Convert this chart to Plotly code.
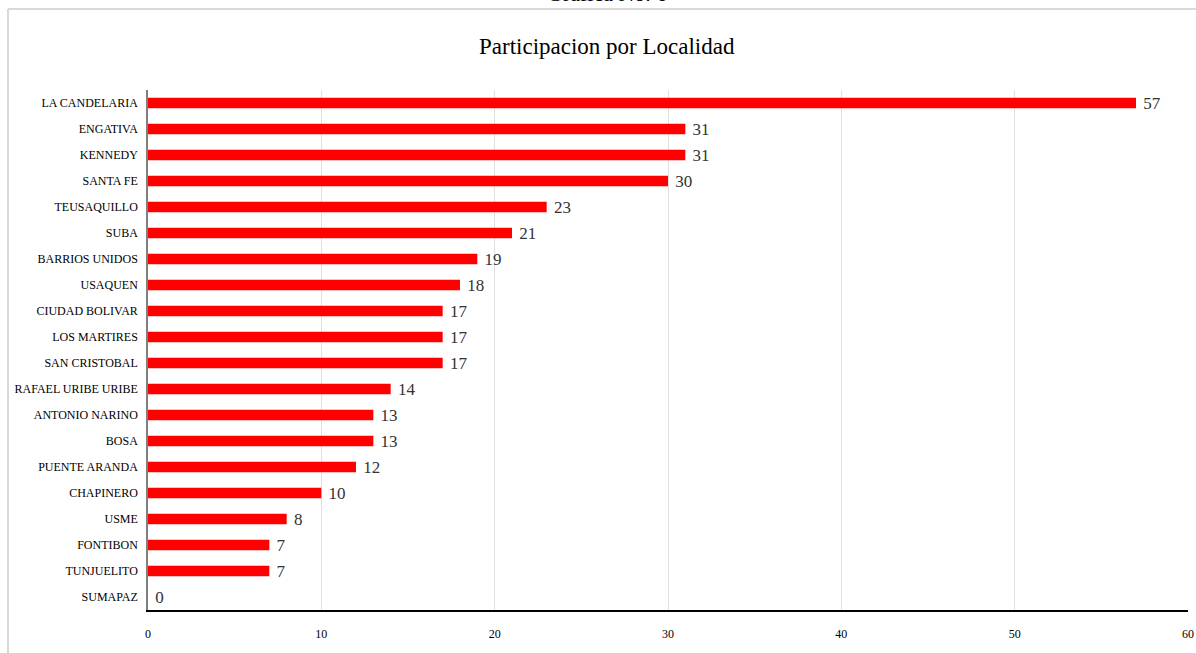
import plotly.graph_objects as go

categories = ["LA CANDELARIA", "ENGATIVA", "KENNEDY", "SANTA FE", "TEUSAQUILLO", "SUBA",
              "BARRIOS UNIDOS", "USAQUEN", "CIUDAD BOLIVAR", "LOS MARTIRES", "SAN CRISTOBAL",
              "RAFAEL URIBE URIBE", "ANTONIO NARINO", "BOSA", "PUENTE ARANDA", "CHAPINERO",
              "USME", "FONTIBON", "TUNJUELITO", "SUMAPAZ"]
values = [57, 31, 31, 30, 23, 21, 19, 18, 17, 17, 17, 14, 13, 13, 12, 10, 8, 7, 7, 0]
x_ticks = [0, 10, 20, 30, 40, 50, 60]

W, H = 1196, 653
L, R, T, B = 148, 1188, 90, 610

def px(x):
    return (x - L) / (R - L)

def py(y):
    return (B - y) / (B - T)

FONT = "Liberation Serif"

fig = go.Figure(go.Bar(
    x=values, y=categories, orientation="h",
    marker=dict(color="#ff0000", line=dict(width=0)),
    text=[" " + str(v) for v in values], textposition="outside",
    constraintext="none",
    textfont=dict(family=FONT, size=17, color="#333333"),
    cliponaxis=False,
))

fig.update_layout(
    width=W, height=H,
    margin=dict(l=L, r=W - R, t=T, b=H - B, autoexpand=False),
    paper_bgcolor="white", plot_bgcolor="white",
    bargap=0.6,
    showlegend=False,
    font=dict(family=FONT, color="#000000"),
)
fig.update_yaxes(
    categoryorder="array", categoryarray=categories[::-1],
    showline=True, linecolor="#7f7f7f", linewidth=1.5,
    ticks="", tickfont=dict(family=FONT, size=12, color="#000000"),
    ticklabelstandoff=6, showgrid=False, automargin=False,
)
fig.update_xaxes(
    range=[0, 60], tickvals=x_ticks,
    showline=True, linecolor="#000000", linewidth=2,
    showgrid=True, gridcolor="#e0e0e0", gridwidth=1,
    ticks="", tickfont=dict(family=FONT, size=12, color="#000000"),
    ticklabelstandoff=12, zeroline=False, automargin=False,
)

shapes = [
    dict(type="line", xref="paper", yref="paper", x0=px(8), x1=px(W), y0=py(9), y1=py(9),
         line=dict(color="#d9d9d9", width=2)),
    dict(type="line", xref="paper", yref="paper", x0=px(8), x1=px(8), y0=py(9), y1=py(H + 5),
         line=dict(color="#d9d9d9", width=2)),
]
fig.update_layout(shapes=shapes)

fig.add_annotation(text="Participacion por Localidad", xref="paper", yref="paper",
                   x=px(607), y=py(46), showarrow=False, xanchor="center", yanchor="middle",
                   font=dict(family=FONT, size=23, color="#000000"))
fig.add_annotation(text="Gráfica No. 6", xref="paper", yref="paper",
                   x=px(607), y=py(-7), showarrow=False, xanchor="center", yanchor="middle",
                   font=dict(family=FONT, size=22, color="#000000"))

fig.write_html("out.html")
